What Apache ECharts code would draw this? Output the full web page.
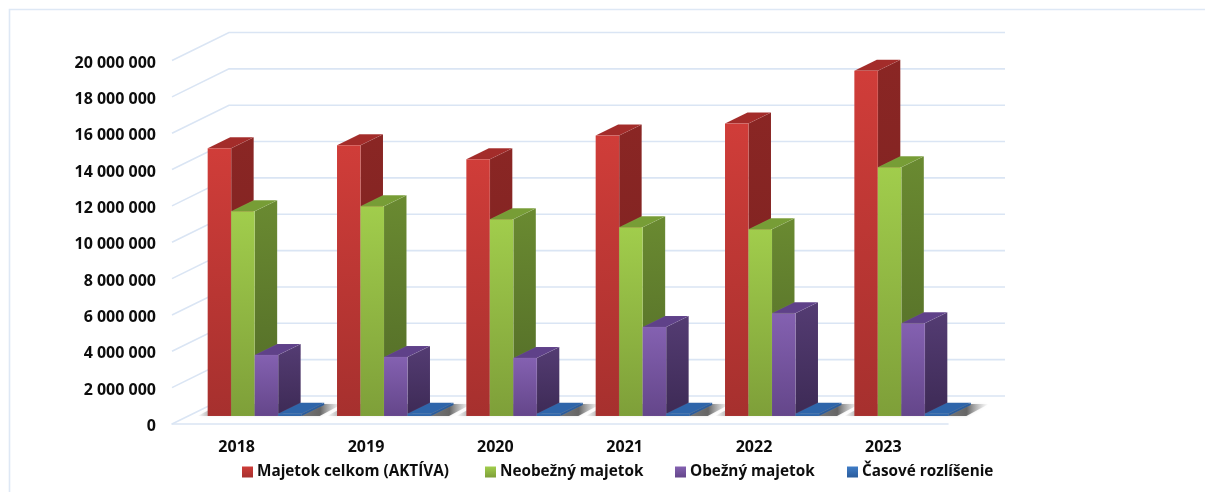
<!DOCTYPE html>
<html><head><meta charset="utf-8">
<style>html,body{margin:0;padding:0;background:#fff}#c{width:1205px;height:492px}</style>
<script src="https://cdn.jsdelivr.net/npm/echarts@6/dist/echarts.min.js"></script></head>
<body><div id="c"></div>
<script>
const categories = ['2018','2019','2020','2021','2022','2023'];
const yTicks = [0,2000000,4000000,6000000,8000000,10000000,12000000,14000000,16000000,18000000,20000000];
const aktiva = [14730000,14890000,14120000,15440000,16100000,19000000];
const neobezny = [11260000,11540000,10820000,10380000,10270000,13680000];
const obezny = [3350000,3240000,3190000,4890000,5660000,5100000];
const casove = [130000,130000,130000,130000,130000,130000];
const names = ['Majetok celkom (AKTÍVA)','Neobežný majetok','Obežný majetok','Časové rozlíšenie'];
const legendLefts = [242,485,675,847];
const valueLists = [aktiva,neobezny,obezny,casove];

const grad=(a,b)=>({type:'linear',x:0,y:0,x2:0,y2:1,colorStops:[{offset:0,color:a},{offset:1,color:b}]});
const palette=[
 {front:grad('#D03D39','#A6302E'),side:grad('#8A2624','#7A2120'),top:'#A32C2A',legend:grad('#CE3C38','#A6302E')},
 {front:grad('#A1CD4C','#7E9F39'),side:grad('#6A8A31','#516A27'),top:'#779D36',legend:grad('#A1CD4C','#7E9F39')},
 {front:grad('#8461B1','#64468A'),side:grad('#543C73','#3D2A55'),top:'#5F4189',legend:grad('#8461B1','#64468A')},
 {front:grad('#3A74BC','#2A5C9C'),side:grad('#2A5C9C','#2A5C9C'),top:'#2E65AA',legend:grad('#3F7CC6','#2A5C9C')}
];
const gridColor='#DAE5F4';
const BACK_DX=57,BACK_DY=-28,SHIFT_DX=18,SHIFT_DY=-8,DEPTH_DX=22.5,DEPTH_DY=-11,GROUP_FRAC=0.7268;

function gridRender(params,api){
  const cs=params.coordSys;const y=api.coord([0,api.value(1)])[1];
  const x0=cs.x,x1=cs.x+cs.width;
  return {type:'polyline',silent:true,shape:{points:[[x0,y],[x0+BACK_DX,y+BACK_DY],[x1+BACK_DX,y+BACK_DY]]},
    style:{stroke:gridColor,lineWidth:1.6,fill:null}};
}
function shadowRender(params,api){
  const c=api.coord([api.value(0),0]);const w=api.size([1,0])[0]*GROUP_FRAC;
  const L=c[0]-w/2+SHIFT_DX,R=L+w;const b=c[1]+SHIFT_DY;
  const xl=L-10,xr=R+DEPTH_DX+18;
  const span=xr-xl;
  return {type:'polygon',silent:true,shape:{points:[[xl,b],[xl+DEPTH_DX,b+DEPTH_DY-1],[xr,b+DEPTH_DY-1],[xr-DEPTH_DX,b]]},
    style:{shadowBlur:3,shadowColor:'rgba(140,140,140,0.35)',fill:{type:'linear',x:0,y:0,x2:1,y2:0,colorStops:[
      {offset:0,color:'rgba(120,120,120,0)'},{offset:10/span,color:'rgba(120,120,120,0.4)'},
      {offset:(R+DEPTH_DX-xl-4)/span,color:'rgba(70,70,70,0.8)'},{offset:1,color:'rgba(170,170,170,0)'}]}}};
}
function barRender(si){
  return function(params,api){
    const i=api.value(0),v=api.value(1);
    const base=api.coord([i,0]),top=api.coord([i,v]);
    const total=api.size([1,0])[0]*GROUP_FRAC,bw=total/4;
    const x0=base[0]-total/2+SHIFT_DX+si*bw,x1=x0+bw;
    const yb=base[1]+SHIFT_DY,yt=top[1]+SHIFT_DY;
    const p=palette[si];
    const edge='rgba(255,255,255,0.08)';
    return {type:'group',silent:true,children:[
      {type:'polygon',shape:{points:[[x1,yb],[x1+DEPTH_DX,yb+DEPTH_DY],[x1+DEPTH_DX,yt+DEPTH_DY],[x1,yt]]},style:{fill:p.side,stroke:edge,lineWidth:0.6}},
      {type:'polygon',shape:{points:[[x0,yt],[x0+DEPTH_DX,yt+DEPTH_DY],[x1+DEPTH_DX,yt+DEPTH_DY],[x1,yt]]},style:{fill:p.top,stroke:edge,lineWidth:0.6}},
      {type:'rect',shape:{x:x0,y:yt,width:bw,height:yb-yt},style:{fill:p.front,stroke:edge,lineWidth:0.6}}
    ]};
  };
}
const fmt=v=>String(v).replace(/\B(?=(\d{3})+(?!\d))/g,' ');
const FONT='"Open Sans"';
const series=[
 {type:'custom',name:'_grid',z:1,renderItem:gridRender,data:yTicks.map(v=>[0,v]),encode:{x:0,y:1},clip:false,silent:true,tooltip:{show:false}},
 {type:'custom',name:'_shadow',z:2,renderItem:shadowRender,data:categories.map((c,i)=>[i,0]),encode:{x:0,y:1},clip:false,silent:true}
];
names.forEach((n,si)=>series.push({type:'custom',name:n,z:3+si,renderItem:barRender(si),
  itemStyle:{color:palette[si].legend},data:valueLists[si].map((v,i)=>[i,v]),encode:{x:0,y:1},clip:false}));
const chart=echarts.init(document.getElementById('c'),null,{renderer:'canvas'});
chart.setOption({
  animation:false,backgroundColor:'#fff',
  grid:{left:172,right:257,top:60.5,bottom:68,containLabel:false},
  xAxis:{type:'category',data:categories,axisTick:{show:false},
    axisLine:{show:true,lineStyle:{color:gridColor,width:1.6}},
    axisLabel:{margin:15,fontFamily:FONT,fontWeight:700,fontSize:16,color:'#0d0d0d'},splitLine:{show:false}},
  yAxis:{type:'value',min:0,max:20000000,interval:2000000,axisLine:{show:false},axisTick:{show:false},splitLine:{show:false},
    axisLabel:{margin:16,fontFamily:FONT,fontWeight:700,fontSize:16,color:'#0d0d0d',lineHeight:5,verticalAlign:'top',formatter:fmt}},
  legend:names.map((n,i)=>({data:[{name:n,icon:'rect'}],left:legendLefts[i],top:464.5,itemWidth:11,itemHeight:11,padding:0,
    textStyle:{fontFamily:FONT,fontWeight:700,fontSize:15.3,color:'#0d0d0d',padding:[0,0,0,-1]},selectedMode:false})),
  graphic:[{type:'polyline',silent:true,z:0,shape:{points:[[9.5,492],[9.5,9.5],[1205,9.5]]},style:{stroke:'#DEE8F5',lineWidth:1.6,fill:null}}],
  series
});
</script></body></html>
